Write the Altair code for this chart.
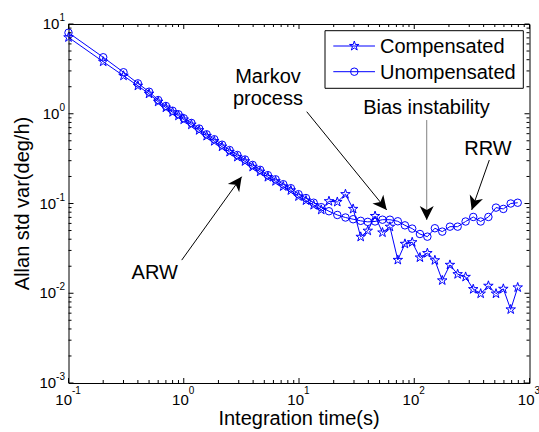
import math
import altair as alt
import pandas as pd

# ---------------- data ----------------
tau = [0.1, 0.2, 0.3, 0.4, 0.5, 0.6, 0.7, 0.8, 0.9, 1.0,
       1.165, 1.36, 1.58, 1.84, 2.15, 2.5, 2.92, 3.4, 3.96, 4.6,
       5.37, 6.26, 7.3, 8.5, 9.9, 11.5, 13.4, 15.6, 18.2, 21.5,
       25.3, 29.5, 34.3, 39.5, 45.7, 53, 61.5, 72, 83, 96,
       112, 130, 151, 175, 204, 238, 279, 325, 377, 440,
       512, 593, 687, 790]

compensated = [7.1, 3.8, 2.65, 2.05, 1.67, 1.36, 1.17, 1.04, 0.95, 0.86,
               0.755, 0.655, 0.565, 0.495, 0.43, 0.375, 0.33, 0.295, 0.256, 0.226,
               0.197, 0.177, 0.155, 0.14, 0.12, 0.108, 0.096, 0.085, 0.106, 0.104,
               0.127, 0.087, 0.0425, 0.0497, 0.0725, 0.0475, 0.055, 0.0235, 0.0355, 0.037,
               0.025, 0.028, 0.0233, 0.0139, 0.0207, 0.0163, 0.0152, 0.0111, 0.0099, 0.0121,
               0.0099, 0.0112, 0.0066, 0.0116]

unompensated = [8.0, 4.26, 2.90, 2.18, 1.76, 1.42, 1.22, 1.08, 0.986, 0.89,
                0.79, 0.684, 0.59, 0.52, 0.452, 0.394, 0.347, 0.309, 0.269, 0.237,
                0.207, 0.186, 0.164, 0.148, 0.127, 0.115, 0.102, 0.091, 0.082, 0.0745,
                0.0698, 0.0668, 0.0641, 0.0624, 0.0631, 0.066, 0.066, 0.0634, 0.0571, 0.0525,
                0.0457, 0.0427, 0.053, 0.0486, 0.0552, 0.0552, 0.063, 0.0708, 0.063, 0.0708,
                0.090, 0.087, 0.100, 0.102]

series_names = ["Compensated", "Unompensated"]

x_ticks = [0.1, 1, 10, 100, 1000]
x_exps = ["-1", "0", "1", "2", "3"]
y_ticks = [0.001, 0.01, 0.1, 1, 10]
y_exps = ["-3", "-2", "-1", "0", "1"]

x_title = "Integration time(s)"
y_title = "Allan std var(deg/h)"

# annotations: label, text x, text baseline y
ann_text = ["Markov\nprocess", "Bias instability", "RRW", "ARW"]
ann_tx = [5.38, 127.7, 436, 0.56]
ann_ty = [2.22, 0.981, 0.347, 0.01429]
# arrows: start -> end (tip)
arr_x1 = [11.67, 128.3, 448, 0.96]
arr_y1 = [1.054, 0.851, 0.305, 0.0234]
arr_x2 = [57.7, 128.3, 315, 3.18]
arr_y2 = [0.0848, 0.0655, 0.0848, 0.199]
arr_col = ["black", "#808080", "black", "black"]

# ---------------- layout / style ----------------
W, H = 461, 359
XD = [0.1, 1000]
YD = [0.001, 10]
BLUE = "#0000FF"
FONT = "Liberation Sans"
STAR = ("M0,-1L0.2245,-0.309L0.951,-0.309L0.363,0.118L0.588,0.809L0,0.382"
        "L-0.588,0.809L-0.363,0.118L-0.951,-0.309L-0.2245,-0.309Z")
HEAD = "M0,0L0.5,1L0,0.72L-0.5,1Z"

xs = alt.Scale(type="log", domain=XD, nice=False)
ys = alt.Scale(type="log", domain=YD, nice=False)


def X(f):
    return alt.X(f, type="quantitative", scale=xs, axis=None)


def Y(f):
    return alt.Y(f, type="quantitative", scale=ys, axis=None)


def px(x):
    return W * (math.log10(x) - math.log10(XD[0])) / (math.log10(XD[1]) - math.log10(XD[0]))


def py(y):
    return H * (1 - (math.log10(y) - math.log10(YD[0])) / (math.log10(YD[1]) - math.log10(YD[0])))


df = pd.DataFrame({"tau": tau, "comp": compensated, "unomp": unompensated})

layers = []

# data series
layers.append(alt.Chart(df).mark_line(color=BLUE, strokeWidth=1).encode(x=X("tau"), y=Y("comp")))
layers.append(alt.Chart(df).mark_point(shape=STAR, size=100, filled=False, color=BLUE,
                                       strokeWidth=1, opacity=1).encode(x=X("tau"), y=Y("comp")))
layers.append(alt.Chart(df).mark_line(color=BLUE, strokeWidth=1).encode(x=X("tau"), y=Y("unomp")))
layers.append(alt.Chart(df).mark_point(shape="circle", size=56, filled=False, color=BLUE,
                                       strokeWidth=1, opacity=1).encode(x=X("tau"), y=Y("unomp")))

# ticks (inward, on all four sides)
minor_x = [m * 10 ** k for k in range(-1, 3) for m in range(2, 10)]
minor_y = [m * 10 ** k for k in range(-3, 1) for m in range(2, 10)]
for vals, L in [(x_ticks, 5), (minor_x, 3)]:
    d = pd.DataFrame({"t": vals})
    layers.append(alt.Chart(d).mark_rule(color="black", strokeWidth=1).encode(
        x=X("t"), y=alt.value(H), y2=alt.value(H - L)))
    layers.append(alt.Chart(d).mark_rule(color="black", strokeWidth=1).encode(
        x=X("t"), y=alt.value(0), y2=alt.value(L)))
for vals, L in [(y_ticks, 5), (minor_y, 3)]:
    d = pd.DataFrame({"t": vals})
    layers.append(alt.Chart(d).mark_rule(color="black", strokeWidth=1).encode(
        y=Y("t"), x=alt.value(0), x2=alt.value(L)))
    layers.append(alt.Chart(d).mark_rule(color="black", strokeWidth=1).encode(
        y=Y("t"), x=alt.value(W), x2=alt.value(W - L)))

# tick labels: "10" with superscript exponent
xl = pd.DataFrame({"t": x_ticks, "e": x_exps, "b": [YD[0]] * len(x_ticks)})
yl = pd.DataFrame({"t": y_ticks, "e": y_exps, "l": [XD[0]] * len(y_ticks)})
for neg in (True, False):
    dxx = 3.5 if neg else 5.0
    sub = xl[xl["e"].str.startswith("-") == neg]
    layers.append(alt.Chart(sub).mark_text(text="10", font=FONT, fontSize=15, align="right",
                                           baseline="alphabetic", dx=dxx, dy=21.5, color="black").encode(
        x=X("t"), y=Y("b")))
    layers.append(alt.Chart(sub).mark_text(font=FONT, fontSize=10, align="left",
                                           baseline="alphabetic", dx=dxx, dy=10.5, color="black").encode(
        x=X("t"), y=Y("b"), text="e:N"))
    suby = yl[yl["e"].str.startswith("-") == neg]
    ew = 8.9 if neg else 5.6
    layers.append(alt.Chart(suby).mark_text(text="10", font=FONT, fontSize=15, align="right",
                                            baseline="alphabetic", dx=-3.5 - ew, dy=5, color="black").encode(
        x=X("l"), y=Y("t")))
    layers.append(alt.Chart(suby).mark_text(font=FONT, fontSize=10, align="right",
                                            baseline="alphabetic", dx=-3.5, dy=-3, color="black").encode(
        x=X("l"), y=Y("t"), text="e:N"))

# axis titles
layers.append(alt.Chart(pd.DataFrame({"s": [x_title]})).mark_text(
    font=FONT, fontSize=20, align="center", baseline="alphabetic", color="black").encode(
    x=alt.value(W / 2), y=alt.value(H + 42), text="s:N"))
layers.append(alt.Chart(pd.DataFrame({"s": [y_title]})).mark_text(
    font=FONT, fontSize=20, align="center", baseline="middle", angle=270, color="black").encode(
    x=alt.value(-46), y=alt.value(H / 2), text="s:N"))

# annotations
adf = pd.DataFrame({"txt": ann_text, "x": ann_tx, "y": ann_ty})
layers.append(alt.Chart(adf).mark_text(font=FONT, fontSize=20, align="center", baseline="alphabetic",
                                       lineBreak="\n", lineHeight=22.3, color="black").encode(
    x=X("x"), y=Y("y"), text="txt:N"))
angles = []
for a, b, c, d in zip(arr_x1, arr_y1, arr_x2, arr_y2):
    ddx = px(c) - px(a)
    ddy = py(d) - py(b)
    angles.append(math.degrees(math.atan2(ddx, -ddy)) % 360)
rdf = pd.DataFrame({"x1": arr_x1, "y1": arr_y1, "x2": arr_x2, "y2": arr_y2,
                    "col": arr_col, "ang": angles})
layers.append(alt.Chart(rdf).mark_rule(strokeWidth=1).encode(
    x=X("x1"), y=Y("y1"), x2="x2:Q", y2="y2:Q", color=alt.Color("col:N", scale=None, legend=None)))
layers.append(alt.Chart(rdf).mark_point(shape=HEAD, size=784, filled=True, color="black",
                                        opacity=1, strokeWidth=0).encode(
    x=X("x2"), y=Y("y2"), angle=alt.Angle("ang:Q", scale=None)))

# legend (drawn as a boxed key in the upper right)
one = pd.DataFrame({"k": [0]})
layers.append(alt.Chart(one).mark_rect(fill="white", stroke="black", strokeWidth=1).encode(
    x=alt.value(256.5), x2=alt.value(454.8), y=alt.value(6.7), y2=alt.value(64.3)))
for i, (nm, shp, sz) in enumerate([(series_names[0], STAR, 100), (series_names[1], "circle", 56)]):
    yy = 22 + i * 25.7
    layers.append(alt.Chart(one).mark_rule(color=BLUE, strokeWidth=1).encode(
        x=alt.value(264.8), x2=alt.value(306.5), y=alt.value(yy)))
    layers.append(alt.Chart(one).mark_point(shape=shp, size=sz, filled=False, color=BLUE,
                                            strokeWidth=1, opacity=1).encode(
        x=alt.value(285.8), y=alt.value(yy)))
    layers.append(alt.Chart(one).mark_text(text=nm, font=FONT, fontSize=20, align="left",
                                           baseline="alphabetic", color="black").encode(
        x=alt.value(311.5), y=alt.value(yy + 7.3)))

chart = alt.layer(*layers).properties(
    width=W, height=H,
    autosize=alt.AutoSizeParams(type="none"),
    padding={"left": 68.5, "top": 24, "right": 9.5, "bottom": 49},
    background="white",
).configure_view(stroke="black", strokeWidth=1)

chart.save("out.html", embed_options={"renderer": "svg", "actions": False})
